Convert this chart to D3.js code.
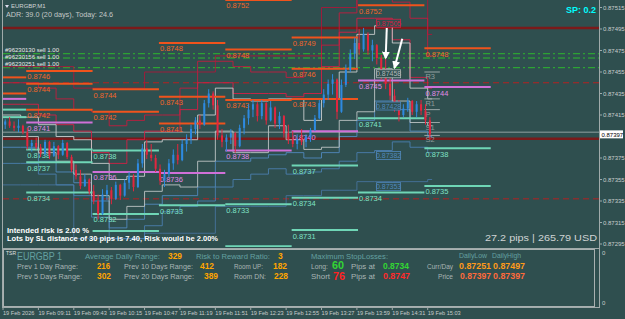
<!DOCTYPE html>
<html>
<head>
<meta charset="utf-8">
<script src="https://cdn.jsdelivr.net/npm/d3@7"></script>
<style>
html, body { margin: 0; padding: 0; background: #2f4f4f; overflow: hidden; }
svg { display: block; font-family: "Liberation Sans", Arial, sans-serif; }
</style>
</head>
<body>
<svg id="chart" width="625" height="319"></svg>
<script>
// ---- data ----
const day = "2026-02-19";
const firstBar = "08:39";

// 4-minute bars (aggregated from the M1 chart)
const opens = [
  0.87406,0.87409,0.87405,0.87403,0.87405,0.87399,0.87386,0.87389,0.87385,0.87379,
  0.87390,0.87377,0.87386,0.87378,0.87389,0.87376,0.87364,0.87358,0.87349,0.87355,
  0.87344,0.87335,0.87323,0.87341,0.87345,0.87337,0.87350,0.87340,0.87352,0.87358,
  0.87348,0.87370,0.87384,0.87378,0.87375,0.87365,0.87354,0.87360,0.87370,0.87378,
  0.87373,0.87388,0.87393,0.87402,0.87410,0.87406,0.87426,0.87435,0.87424,0.87396,
  0.87390,0.87394,0.87398,0.87386,0.87403,0.87412,0.87420,0.87425,0.87414,0.87426,
  0.87410,0.87422,0.87407,0.87414,0.87398,0.87392,0.87388,0.87393,0.87390,0.87395,
  0.87401,0.87412,0.87426,0.87434,0.87444,0.87448,0.87418,0.87443,0.87457,0.87472,
  0.87482,0.87476,0.87490,0.87475,0.87480,0.87468,0.87452,0.87444,0.87433,0.87423,
  0.87415,0.87421,0.87428,0.87418,0.87425,0.87419,0.87410];
const highs = [
  0.87411,0.87413,0.87409,0.87411,0.87406,0.87403,0.87392,0.87394,0.87388,0.87392,
  0.87391,0.87390,0.87387,0.87392,0.87390,0.87378,0.87369,0.87364,0.87360,0.87356,
  0.87350,0.87341,0.87346,0.87350,0.87348,0.87353,0.87351,0.87355,0.87362,0.87360,
  0.87374,0.87388,0.87392,0.87388,0.87378,0.87369,0.87364,0.87374,0.87383,0.87388,
  0.87392,0.87397,0.87406,0.87413,0.87415,0.87429,0.87439,0.87437,0.87429,0.87402,
  0.87397,0.87402,0.87399,0.87406,0.87415,0.87425,0.87429,0.87427,0.87429,0.87427,
  0.87428,0.87423,0.87418,0.87415,0.87406,0.87400,0.87397,0.87402,0.87397,0.87403,
  0.87415,0.87429,0.87439,0.87448,0.87453,0.87449,0.87448,0.87462,0.87476,0.87487,
  0.87495,0.87496,0.87492,0.87485,0.87481,0.87471,0.87467,0.87453,0.87439,0.87429,
  0.87425,0.87431,0.87429,0.87428,0.87429,0.87425,0.87413];
const lows = [
  0.87402,0.87403,0.87400,0.87399,0.87397,0.87383,0.87381,0.87383,0.87376,0.87377,
  0.87374,0.87376,0.87374,0.87377,0.87374,0.87362,0.87355,0.87346,0.87348,0.87341,
  0.87332,0.87318,0.87322,0.87336,0.87332,0.87336,0.87336,0.87339,0.87346,0.87344,
  0.87347,0.87366,0.87374,0.87372,0.87362,0.87350,0.87348,0.87357,0.87364,0.87369,
  0.87372,0.87381,0.87388,0.87397,0.87402,0.87405,0.87422,0.87420,0.87392,0.87385,
  0.87381,0.87388,0.87380,0.87385,0.87397,0.87406,0.87413,0.87409,0.87411,0.87406,
  0.87409,0.87403,0.87402,0.87394,0.87388,0.87385,0.87383,0.87387,0.87385,0.87390,
  0.87400,0.87411,0.87422,0.87429,0.87434,0.87411,0.87417,0.87441,0.87455,0.87467,
  0.87471,0.87474,0.87471,0.87465,0.87462,0.87448,0.87439,0.87429,0.87418,0.87409,
  0.87413,0.87418,0.87415,0.87413,0.87415,0.87406,0.87392];
const closes = [
  0.87409,0.87405,0.87403,0.87405,0.87399,0.87386,0.87389,0.87385,0.87379,0.87390,
  0.87377,0.87386,0.87378,0.87389,0.87376,0.87364,0.87358,0.87349,0.87355,0.87344,
  0.87335,0.87323,0.87341,0.87345,0.87337,0.87350,0.87340,0.87352,0.87358,0.87348,
  0.87370,0.87384,0.87378,0.87375,0.87365,0.87354,0.87360,0.87370,0.87378,0.87373,
  0.87388,0.87393,0.87402,0.87410,0.87406,0.87426,0.87435,0.87424,0.87396,0.87390,
  0.87394,0.87398,0.87386,0.87403,0.87412,0.87420,0.87425,0.87414,0.87426,0.87410,
  0.87422,0.87407,0.87414,0.87398,0.87392,0.87388,0.87393,0.87390,0.87395,0.87401,
  0.87412,0.87426,0.87434,0.87444,0.87448,0.87418,0.87443,0.87457,0.87472,0.87482,
  0.87476,0.87490,0.87475,0.87480,0.87468,0.87452,0.87444,0.87433,0.87423,0.87415,
  0.87421,0.87428,0.87418,0.87425,0.87419,0.87410,0.87397];

// step channels, one value per 16-minute block starting 08:39
const crimsonA = [0.87425,0.87425,0.87415,0.87406,0.87400,0.87380,0.87370,0.87392,0.87400,0.87400,0.87420,0.87445,0.87445,0.87435,0.87435,0.87435,0.87432,0.87435,0.87460,0.87492,0.87505,0.87505,0.87485,0.87450,0.87440];
const crimsonB = [0.87445,0.87445,0.87440,0.87430,0.87420,0.87418,0.87405,0.87410,0.87415,0.87415,0.87440,0.87465,0.87465,0.87460,0.87455,0.87455,0.87450,0.87458,0.87480,0.87510,0.87525,0.87525,0.87520,0.87505,0.87470];
const crimsonC = [0.87460,0.87460,0.87460,0.87460,0.87440,0.87440,0.87440,0.87440,0.87455,0.87455,0.87455,0.87455,0.87470,0.87470,0.87470,0.87470,0.87470,0.87470,0.87515,0.87515,0.87530,0.87530,0.87530,0.87530,0.87490];
const whiteHi  = [0.87415,0.87413,0.87406,0.87395,0.87392,0.87370,0.87355,0.87358,0.87390,0.87392,0.87392,0.87415,0.87440,0.87430,0.87428,0.87430,0.87430,0.87410,0.87430,0.87455,0.87490,0.87498,0.87482,0.87440,0.87430];
const whiteLo  = [0.87395,0.87395,0.87380,0.87372,0.87360,0.87340,0.87318,0.87330,0.87344,0.87350,0.87348,0.87372,0.87400,0.87380,0.87380,0.87405,0.87392,0.87383,0.87385,0.87410,0.87418,0.87458,0.87428,0.87408,0.87405];
const blueA    = [0.87385,0.87385,0.87372,0.87362,0.87352,0.87335,0.87310,0.87318,0.87332,0.87340,0.87340,0.87348,0.87372,0.87372,0.87375,0.87378,0.87380,0.87375,0.87380,0.87395,0.87410,0.87428,0.87420,0.87400,0.87395];
const blueB    = [0.87370,0.87370,0.87360,0.87350,0.87340,0.87320,0.87300,0.87300,0.87312,0.87325,0.87330,0.87335,0.87348,0.87355,0.87360,0.87365,0.87360,0.87362,0.87365,0.87372,0.87380,0.87382,0.87390,0.87385,0.87380];
const blueC    = [0.87350,0.87350,0.87350,0.87350,0.87300,0.87300,0.87300,0.87300,0.87305,0.87305,0.87305,0.87305,0.87330,0.87330,0.87330,0.87330,0.87340,0.87340,0.87345,0.87345,0.87353,0.87353,0.87353,0.87353,0.87355];
const boxedBlock = "14:15";

// hourly levels [hour start, price]
const orangeLevels = [
  ["08:39",0.87450],["08:39",0.87435],
  ["09:00",0.87456],["09:00",0.87444],["09:00",0.87420],
  ["10:00",0.87439],["10:00",0.87418],
  ["11:00",0.87482],["11:00",0.87432],["11:00",0.87407],
  ["12:00",0.87522],["12:00",0.87476],["12:00",0.87429],
  ["13:00",0.87487],["13:00",0.87458],["13:00",0.87430],
  ["14:00",0.87517],
  ["15:00",0.87477]];
const violetLevels = [
  ["08:39",0.87430],["09:00",0.87408],["10:00",0.87362],["11:00",0.87361],
  ["12:00",0.87382],["13:00",0.87400],["14:00",0.87447],["15:00",0.87441]];
const aquaLevels = [
  ["08:39",0.87420],["08:39",0.87413],
  ["09:00",0.87383],["09:00",0.87371],["09:00",0.87343],
  ["10:00",0.87382],["10:00",0.87323],["10:00",0.87307],
  ["11:00",0.87331],
  ["12:00",0.87332],["12:00",0.87293],
  ["13:00",0.87368],["13:00",0.87338],["13:00",0.87308],
  ["14:00",0.87412],["14:00",0.87343],
  ["15:00",0.87384],["15:00",0.87349]];
const pivotNames  = ["R3","R1","P","S1","S2"];
const pivotValues = [0.87455,0.87430,0.87420,0.87408,0.87396];
const pivotHour = "15:00";

// full-width lines
const maroonLevels = [0.87496, 0.87393];
const orderLevels  = [0.87472, 0.87468, 0.87459];
const orderLabels  = ["#96230130 sell 1.00", "#96230156 sell 1.00", "#96230251 sell 1.00"];
const redDashLevels = [0.87445, 0.87337];
const askPrice = 0.87399;
const bidPrice = 0.87397;

// arrows drawn on the chart [time, price]
const arrowFrom = [["14:26",0.87496],["14:40",0.87486]];
const arrowTo   = [["14:25",0.87468],["14:33",0.87459]];

// axes
const priceTicks = [0.87515,0.87495,0.87475,0.87455,0.87435,0.87415,0.87375,0.87355,0.87335,0.87315,0.87295];
const timeTicks = ["08:39","09:11","09:43","10:15","10:47","11:19","11:51","12:23","12:55","13:27","13:59","14:31","15:03"];

// ---- drawing ----
const parse = d3.timeParse("%Y-%m-%d %H:%M");
const T = s => parse(day + " " + s);

const svg = d3.select("#chart");
const plotLeft = 3, plotRight = 599, plotTop = 0, plotBottom = 247;

const x = d3.scaleTime().domain([T("08:39"), T("15:03")]).range([3, 427.7]);
const y = d3.scaleLinear().domain([0.87515, 0.87295]).range([7.5, 244]);

svg.append("rect").attr("width", 625).attr("height", 319).attr("fill", "#2f4f4f");

const defs = svg.append("defs");
defs.append("clipPath").attr("id", "clip")
  .append("rect").attr("x", plotLeft).attr("y", plotTop).attr("width", plotRight - plotLeft).attr("height", plotBottom - plotTop);
defs.append("marker").attr("id", "head").attr("viewBox", "0 0 10 10")
  .attr("refX", 8).attr("refY", 5).attr("markerWidth", 4).attr("markerHeight", 4).attr("orient", "auto")
  .append("path").attr("d", "M0,0L10,5L0,10Z").attr("fill", "#fff");

const plot = svg.append("g").attr("clip-path", "url(#clip)");

// full width lines
plot.selectAll(".maroon").data(maroonLevels).join("line")
  .attr("x1", plotLeft).attr("x2", plotRight).attr("y1", d => y(d)).attr("y2", d => y(d))
  .attr("stroke", "#7a1a1a").attr("stroke-width", 2.5);
plot.selectAll(".order").data(orderLevels).join("line")
  .attr("x1", plotLeft).attr("x2", plotRight).attr("y1", d => y(d)).attr("y2", d => y(d))
  .attr("stroke", "#2eb82e").attr("stroke-width", 1).attr("stroke-dasharray", "7,3,2,3");
plot.selectAll(".rdash").data(redDashLevels).join("line")
  .attr("x1", plotLeft).attr("x2", plotRight).attr("y1", d => y(d)).attr("y2", d => y(d))
  .attr("stroke", "#b22222").attr("stroke-width", 1).attr("stroke-dasharray", "6,4");
plot.append("line").attr("x1", plotLeft).attr("x2", plotRight).attr("y1", y(askPrice)).attr("y2", y(askPrice))
  .attr("stroke", "#6f8585").attr("stroke-width", 1.5);

// step channels
const blockTimes = crimsonA.map((_, k) => d3.timeMinute.offset(T(firstBar), 16 * k));
const stepEnd = d3.timeMinute.offset(T(firstBar), 4 * opens.length);
const step = d3.line().x(d => x(d[0])).y(d => y(d[1])).curve(d3.curveStepAfter);
const stepPts = vals => vals.map((v, k) => [blockTimes[k], v]).concat([[stepEnd, vals[vals.length - 1]]]);

const channels = [
  [crimsonC, "#a8183a"], [crimsonB, "#c21d3e"], [crimsonA, "#d42045"],
  [blueC, "#46729c"], [blueB, "#4a7eae"], [blueA, "#5088bc"],
  [whiteLo, "#bcc4c4"], [whiteHi, "#c8cccc"]
];
channels.forEach(([vals, col]) => {
  plot.append("path").attr("d", step(stepPts(vals)))
    .attr("fill", "none").attr("stroke", col).attr("stroke-width", 1).attr("opacity", 0.9);
});

// hourly levels
const fmt4 = d3.format(".4f");
function drawLevels(levels, col, lab) {
  const g = plot.append("g");
  levels.forEach(([h, v]) => {
    const t0 = T(h);
    const t1 = d3.timeHour.offset(d3.timeHour.floor(t0), 1);
    g.append("line").attr("x1", x(t0)).attr("x2", x(t1)).attr("y1", y(v)).attr("y2", y(v))
      .attr("stroke", col).attr("stroke-width", 2);
    const ly = y(v) + 8.5;
    // labels sit at the segment start; skip ones cut off or hidden under the risk note
    if (h !== firstBar && ly < plotBottom && !(x(t0) < 220 && ly > 226)) {
      g.append("text").attr("x", x(t0) + 1).attr("y", ly)
        .attr("fill", lab).attr("font-size", 7.5).text(fmt4(v));
    }
  });
}
drawLevels(aquaLevels, "#6fd6b6", "#7fe3c6");
drawLevels(violetLevels, "#d070d8", "#e08ae6");
drawLevels(orangeLevels, "#f0531c", "#f2662a");

// pivot stubs
const pv = plot.append("g");
pivotNames.forEach((n, i) => {
  const t0 = T(pivotHour);
  pv.append("line").attr("x1", x(t0)).attr("x2", x(d3.timeMinute.offset(t0, 14)))
    .attr("y1", y(pivotValues[i])).attr("y2", y(pivotValues[i]))
    .attr("stroke", "#9aa6a6").attr("stroke-width", 1);
  pv.append("text").attr("x", x(t0) + 1).attr("y", y(pivotValues[i]) + 7)
    .attr("fill", "#8e9c9c").attr("font-size", 7.5).text(n);
});

// candles
const barTimes = opens.map((_, i) => d3.timeMinute.offset(T(firstBar), 4 * i));
const bw = x(d3.timeMinute.offset(T(firstBar), 4)) - x(T(firstBar));
const candles = plot.append("g");
opens.forEach((o, i) => {
  const c = closes[i];
  const col = c > o ? "#2e8ae0" : (c < o ? "#e3263f" : "#3ddc3d");
  const cx = x(barTimes[i]) + bw / 2;
  candles.append("line").attr("x1", cx).attr("x2", cx).attr("y1", y(highs[i])).attr("y2", y(lows[i]))
    .attr("stroke", col).attr("stroke-width", 1);
  candles.append("rect").attr("x", cx - 1).attr("width", 2)
    .attr("y", y(Math.max(o, c))).attr("height", Math.max(1, Math.abs(y(o) - y(c))))
    .attr("fill", col);
});

// boxed channel values
const bk = blockTimes.findIndex(t => +t === +T(boxedBlock));
[[crimsonA, "#d42045"], [whiteLo, "#b0b8b8"], [blueA, "#5088bc"], [blueB, "#5088bc"], [blueC, "#5088bc"]]
  .forEach(([vals, col]) => {
    const bx = x(blockTimes[bk]) + 2, by = y(vals[bk]) + 1;
    plot.append("rect").attr("x", bx).attr("y", by).attr("width", 24).attr("height", 8)
      .attr("fill", "#2f4f4f").attr("stroke", col).attr("stroke-width", 0.8);
    plot.append("text").attr("x", bx + 12).attr("y", by + 6.6).attr("text-anchor", "middle")
      .attr("fill", col).attr("font-size", 7).text(d3.format(".5f")(vals[bk]));
  });

// order labels
plot.selectAll(".olab").data(orderLevels).join("text")
  .attr("x", 5).attr("y", (d, i) => y(d) - (i === 1 ? -1 : 1.5))
  .attr("fill", "#e8e8e8").attr("font-size", 6).text((d, i) => orderLabels[i]);

// arrows
arrowFrom.forEach((a, i) => {
  plot.append("line")
    .attr("x1", x(T(a[0]))).attr("y1", y(a[1]))
    .attr("x2", x(T(arrowTo[i][0]))).attr("y2", y(arrowTo[i][1]))
    .attr("stroke", "#fff").attr("stroke-width", 2).attr("marker-end", "url(#head)");
});

// frame
svg.append("line").attr("x1", 2.5).attr("x2", 2.5).attr("y1", 0).attr("y2", 307).attr("stroke", "#a0aaaa");
svg.append("line").attr("x1", plotRight + 0.5).attr("x2", plotRight + 0.5).attr("y1", 0).attr("y2", 307).attr("stroke", "#a0aaaa");
svg.append("line").attr("x1", 2).attr("x2", plotRight + 1).attr("y1", 248.5).attr("y2", 248.5).attr("stroke", "#a0aaaa");
svg.append("line").attr("x1", 2).attr("x2", plotRight + 1).attr("y1", 307.5).attr("y2", 307.5).attr("stroke", "#a0aaaa");

// right price axis
const ya = svg.append("g");
priceTicks.forEach(p => {
  ya.append("line").attr("x1", plotRight).attr("x2", plotRight + 3).attr("y1", y(p)).attr("y2", y(p)).attr("stroke", "#a0aaaa");
  ya.append("text").attr("x", plotRight + 4).attr("y", y(p) + 2).attr("fill", "#c8cccc").attr("font-size", 6).text(d3.format(".5f")(p));
});
ya.append("rect").attr("x", plotRight + 1).attr("y", y(bidPrice) - 4).attr("width", 23).attr("height", 8).attr("fill", "#fff");
ya.append("text").attr("x", plotRight + 2.5).attr("y", y(bidPrice) + 2.3).attr("fill", "#000").attr("font-size", 6).text(d3.format(".5f")(bidPrice));
ya.append("text").attr("x", 602).attr("y", 255).attr("fill", "#c8cccc").attr("font-size", 6).text("0");
ya.append("text").attr("x", 602).attr("y", 305).attr("fill", "#c8cccc").attr("font-size", 6).text("0");

// time axis
const fmtFirst = d3.timeFormat("%d %b %Y"), fmtT = d3.timeFormat("%d %b %H:%M");
timeTicks.forEach((s, i) => {
  const t = T(s);
  svg.append("line").attr("x1", x(t)).attr("x2", x(t)).attr("y1", 307).attr("y2", 310).attr("stroke", "#a0aaaa");
  svg.append("text").attr("x", x(t)).attr("y", 315).attr("fill", "#c8cccc").attr("font-size", 5.6)
    .text(i === 0 ? fmtFirst(t) : fmtT(t));
});

// header texts
svg.append("path").attr("d", "M5,5L9,5L7,8Z").attr("fill", "#dde");
svg.append("text").attr("x", 11).attr("y", 8).attr("fill", "#d0d4d4").attr("font-size", 6).text("EURGBP,M1");
svg.append("text").attr("x", 6).attr("y", 16.5).attr("fill", "#c4c8c8").attr("font-size", 8)
  .attr("textLength", 107).attr("lengthAdjust", "spacingAndGlyphs").text("ADR: 39.0 (20 days), Today: 24.6");
svg.append("text").attr("x", 596).attr("y", 13).attr("text-anchor", "end").attr("fill", "#00ffff")
  .attr("font-size", 9).attr("font-weight", "bold").text("SP: 0.2");

// risk texts
svg.append("text").attr("x", 7).attr("y", 232.5).attr("fill", "#fff").attr("font-size", 7.5).attr("font-weight", "bold")
  .attr("textLength", 82).attr("lengthAdjust", "spacingAndGlyphs").text("Intended risk is 2.00 %");
svg.append("text").attr("x", 7).attr("y", 241).attr("fill", "#fff").attr("font-size", 7.5).attr("font-weight", "bold")
  .attr("textLength", 211).attr("lengthAdjust", "spacingAndGlyphs").text("Lots by SL distance of 30 pips is 7.40, Risk would be 2.00%");
svg.append("text").attr("x", 597).attr("y", 240.5).attr("text-anchor", "end").attr("fill", "#d0d4d4").attr("font-size", 9)
  .attr("textLength", 112).attr("lengthAdjust", "spacingAndGlyphs").text("27.2 pips | 265.79 USD");

// info panel
svg.append("rect").attr("x", 3.5).attr("y", 249.5).attr("width", 591).attr("height", 57)
  .attr("fill", "none").attr("stroke", "#a8b0b0").attr("stroke-width", 1);
const head = "#64a0a0", lbl = "#a9b5b5", num = "#ffa500";
const panelTexts = [
  [6, 255, "TSR", "#e0e0e0", 5, null, 0],
  [17, 259.5, "EURGBP 1", head, 10.5, null, 45],
  [85, 258.5, "Average Daily Range:", head, 8, null, 75],
  [168, 259, "329", num, 8.5, "bold", 14],
  [196, 258.5, "Risk to Reward Ratio:", head, 8, null, 74],
  [278, 259, "3", num, 8.5, "bold", 0],
  [311, 258.5, "Maximum StopLosses:", head, 8, null, 77],
  [459, 257.5, "DailyLow", head, 7, null, 28],
  [492, 257.5, "DailyHigh", head, 7, null, 29],
  [17, 268.5, "Prev 1 Day Range:", lbl, 8, null, 61],
  [97, 269, "216", num, 8.5, "bold", 13],
  [124, 268.5, "Prev 10 Days Range:", lbl, 8, null, 69],
  [200, 269, "412", num, 8.5, "bold", 14],
  [234, 268.5, "Room UP:", lbl, 8, null, 29],
  [273, 269, "182", num, 8.5, "bold", 14],
  [311, 268.5, "Long:", lbl, 8, null, 17],
  [332, 268.5, "60", "#33d633", 10, "bold", 12],
  [351, 268.5, "Pips at", lbl, 8, null, 24],
  [383, 269, "0.8734", "#33d633", 8.5, "bold", 26],
  [427, 268.5, "Curr/Day", lbl, 7.5, null, 26],
  [459, 269, "0.87251", "#ff9a1a", 8.5, "bold", 32],
  [493, 269, "0.87497", "#ff9a1a", 8.5, "bold", 32],
  [17, 278.5, "Prev 5 Days Range:", lbl, 8, null, 65],
  [97, 279, "302", num, 8.5, "bold", 14],
  [124, 278.5, "Prev 20 Days Range:", lbl, 8, null, 70],
  [204, 279, "389", num, 8.5, "bold", 14],
  [234, 278.5, "Room DN:", lbl, 8, null, 32],
  [274, 279, "228", num, 8.5, "bold", 14],
  [311, 278.5, "Short", lbl, 8, null, 19],
  [333, 279.5, "76", "#ff2222", 10, "bold", 12],
  [351, 278.5, "Pips at", lbl, 8, null, 24],
  [383, 279, "0.8747", "#ff2a2a", 8.5, "bold", 27],
  [438, 278.5, "Price", lbl, 7.5, null, 15],
  [460, 279, "0.87397", "#ff6a3a", 8.5, "bold", 31],
  [493, 279, "0.87397", "#ff6a3a", 8.5, "bold", 32]
];
panelTexts.forEach(([tx, ty, s, col, fs, fw, len]) => {
  const t = svg.append("text").attr("x", tx).attr("y", ty).attr("fill", col).attr("font-size", fs).text(s);
  if (fw) t.attr("font-weight", fw);
  if (len) t.attr("textLength", len).attr("lengthAdjust", "spacingAndGlyphs");
});
</script>
</body>
</html>
